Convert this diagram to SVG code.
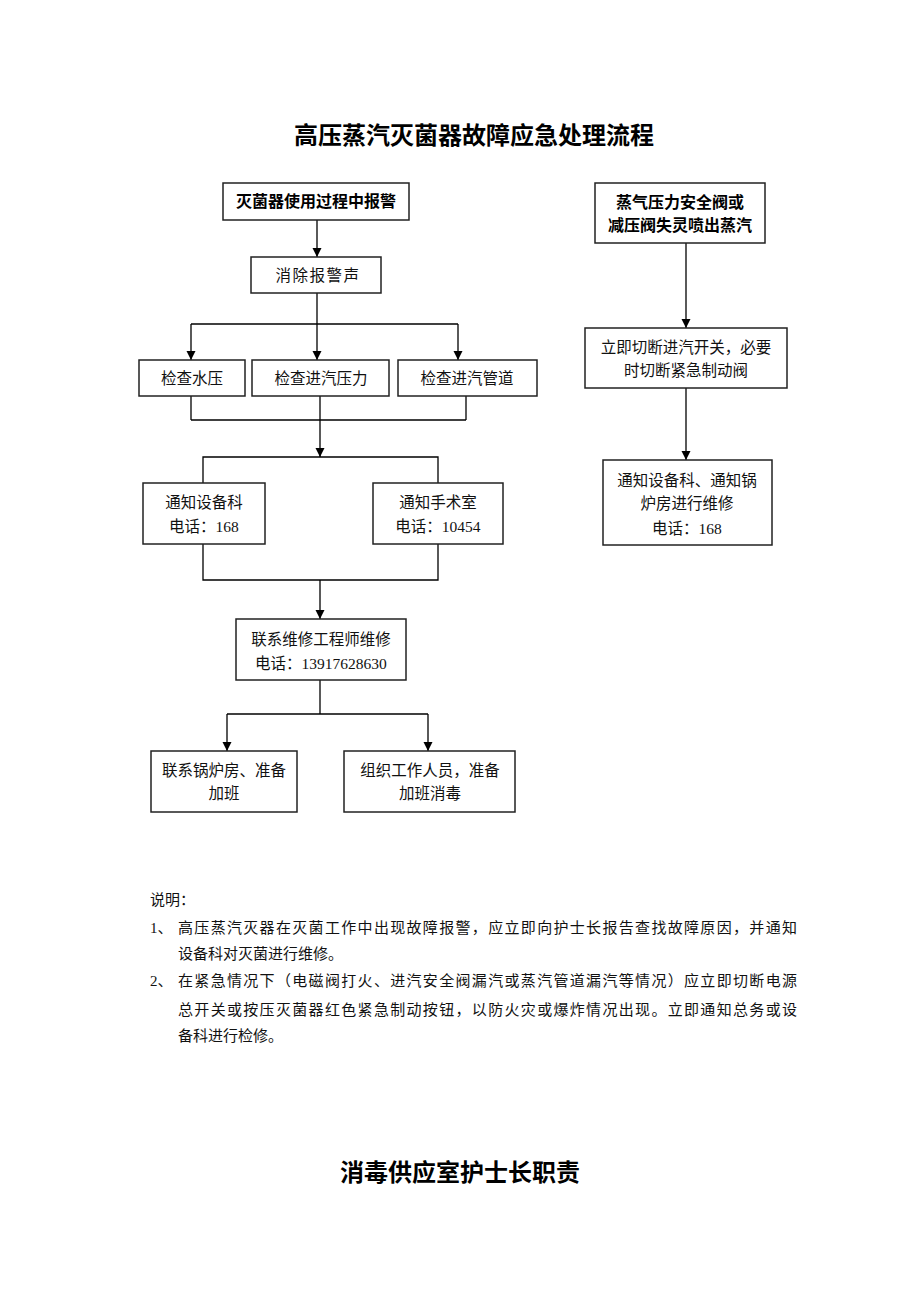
<svg xmlns="http://www.w3.org/2000/svg" width="920" height="1302" viewBox="0 0 920 1302">
<defs>
<marker id="arr" viewBox="0 0 10 10" refX="10" refY="5" markerWidth="9" markerHeight="11" orient="auto" markerUnits="userSpaceOnUse">
<path d="M0,0 L10,5 L0,10 z" fill="#000"/>
</marker>
<style>
.box{fill:#fff;stroke:#222;stroke-width:1.5}
.t{font-family:"Liberation Serif","Noto Sans CJK SC",serif;font-size:15.5px;fill:#111;text-anchor:middle}
.b{font-family:"Noto Sans CJK SC","Liberation Sans",sans-serif;font-size:16px;font-weight:bold;fill:#000;text-anchor:middle}
.title{font-family:"Noto Sans CJK SC","Liberation Sans",sans-serif;font-size:24px;font-weight:bold;fill:#000;text-anchor:middle}
.n{font-family:"Liberation Serif","Noto Sans CJK SC",serif;font-size:15px;fill:#111}
.c{fill:none;stroke:#000;stroke-width:1.3}
</style>
</defs>
<rect width="920" height="1302" fill="#fff"/>
<text class="title" x="474" y="144">高压蒸汽灭菌器故障应急处理流程</text>

<g id="connectors">
<line class="c" x1="317" y1="220" x2="317" y2="257" marker-end="url(#arr)"/>
<line class="c" x1="317" y1="293" x2="317" y2="324"/>
<line class="c" x1="191" y1="324" x2="458" y2="324"/>
<line class="c" x1="191" y1="324" x2="191" y2="360" marker-end="url(#arr)"/>
<line class="c" x1="317" y1="324" x2="317" y2="360" marker-end="url(#arr)"/>
<line class="c" x1="458" y1="324" x2="458" y2="360" marker-end="url(#arr)"/>
<line class="c" x1="191" y1="396" x2="191" y2="420"/>
<line class="c" x1="320" y1="396" x2="320" y2="420"/>
<line class="c" x1="466" y1="396" x2="466" y2="420"/>
<line class="c" x1="191" y1="420" x2="466" y2="420"/>
<line class="c" x1="320" y1="420" x2="320" y2="457" marker-end="url(#arr)"/>
<polyline class="c" points="203,483 203,457 438,457 438,483"/>
<polyline class="c" points="203,544 203,580 438,580 438,544"/>
<line class="c" x1="320" y1="580" x2="320" y2="619" marker-end="url(#arr)"/>
<line class="c" x1="320" y1="680" x2="320" y2="714"/>
<line class="c" x1="227" y1="714" x2="428" y2="714"/>
<line class="c" x1="227" y1="714" x2="227" y2="751" marker-end="url(#arr)"/>
<line class="c" x1="428" y1="714" x2="428" y2="751" marker-end="url(#arr)"/>
<line class="c" x1="686" y1="243" x2="686" y2="328" marker-end="url(#arr)"/>
<line class="c" x1="686" y1="388" x2="686" y2="460" marker-end="url(#arr)"/>
</g>

<g id="n1"><rect class="box" x="223" y="183" width="186" height="37"/><text class="b" x="316" y="207">灭菌器使用过程中报警</text></g>
<g id="n2"><rect class="box" x="251" y="257" width="130" height="36"/><text class="t" x="318" y="281" letter-spacing="1.5">消除报警声</text></g>
<g id="n3"><rect class="box" x="139" y="360" width="106" height="36"/><text class="t" x="192" y="384">检查水压</text></g>
<g id="n4"><rect class="box" x="252" y="360" width="137" height="36"/><text class="t" x="321" y="384">检查进汽压力</text></g>
<g id="n5"><rect class="box" x="398" y="360" width="139" height="36"/><text class="t" x="467" y="384">检查进汽管道</text></g>
<g id="n6"><rect class="box" x="143" y="483" width="122" height="61"/><text class="t" x="204" y="508">通知设备科</text><text class="t" x="204" y="532">电话：168</text></g>
<g id="n7"><rect class="box" x="373" y="483" width="130" height="61"/><text class="t" x="438" y="508">通知手术室</text><text class="t" x="438" y="532">电话：10454</text></g>
<g id="n8"><rect class="box" x="236" y="619" width="170" height="61"/><text class="t" x="321" y="645">联系维修工程师维修</text><text class="t" x="321" y="669">电话：13917628630</text></g>
<g id="n9"><rect class="box" x="151" y="751" width="146" height="61"/><text class="t" x="224" y="776">联系锅炉房、准备</text><text class="t" x="224" y="799">加班</text></g>
<g id="n10"><rect class="box" x="344" y="751" width="171" height="61"/><text class="t" x="430" y="776">组织工作人员，准备</text><text class="t" x="430" y="799">加班消毒</text></g>
<g id="n11"><rect class="box" x="595" y="183" width="170" height="60"/><text class="b" x="680" y="208">蒸气压力安全阀或</text><text class="b" x="680" y="231">减压阀失灵喷出蒸汽</text></g>
<g id="n12"><rect class="box" x="585" y="328" width="202" height="60"/><text class="t" x="686" y="353">立即切断进汽开关，必要</text><text class="t" x="686" y="376">时切断紧急制动阀</text></g>
<g id="n13"><rect class="box" x="603" y="460" width="169" height="85"/><text class="t" x="687" y="486">通知设备科、通知锅</text><text class="t" x="687" y="509">炉房进行维修</text><text class="t" x="687" y="534">电话：168</text></g>

<g id="notes">
<text class="n" x="150" y="905">说明：</text>
<text class="n" x="150" y="933">1、</text>
<text class="n" x="178" y="933" textLength="619" lengthAdjust="spacing">高压蒸汽灭器在灭菌工作中出现故障报警，应立即向护士长报告查找故障原因，并通知</text>
<text class="n" x="178" y="959">设备科对灭菌进行维修。</text>
<text class="n" x="150" y="986">2、</text>
<text class="n" x="178" y="986" textLength="619" lengthAdjust="spacing">在紧急情况下（电磁阀打火、进汽安全阀漏汽或蒸汽管道漏汽等情况）应立即切断电源</text>
<text class="n" x="178" y="1015" textLength="619" lengthAdjust="spacing">总开关或按压灭菌器红色紧急制动按钮，以防火灾或爆炸情况出现。立即通知总务或设</text>
<text class="n" x="178" y="1041">备科进行检修。</text>
</g>

<text class="title" x="460" y="1181">消毒供应室护士长职责</text>
</svg>
